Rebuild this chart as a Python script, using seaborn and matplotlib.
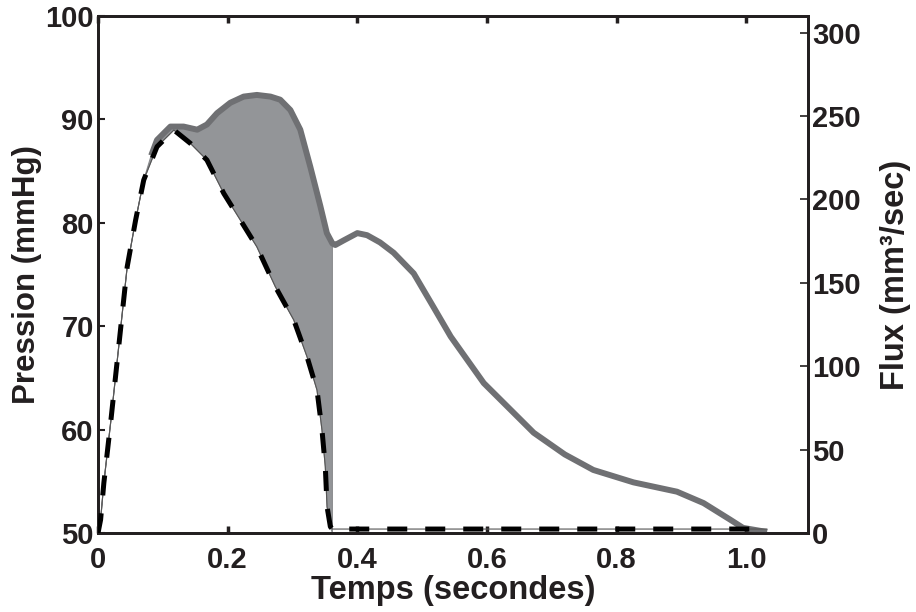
import numpy as np
import pandas as pd
import matplotlib
matplotlib.use("Agg")
import matplotlib.pyplot as plt
import seaborn as sns

# ---- data ----
flux_t = [0.000, 0.004, 0.009, 0.020, 0.032, 0.045, 0.058, 0.0705, 0.091, 0.117,
          0.1425, 0.168, 0.194, 0.2196, 0.245, 0.2735, 0.302, 0.3224, 0.3378, 0.3455,
          0.3506, 0.3533, 0.3584, 0.3615, 1.032]
flux_v = [0.0, 8.0, 30.0, 68.0, 112.0, 159.6, 187.6, 211.6, 231.6, 241.6,
          233.6, 223.6, 203.6, 187.6, 171.6, 147.7, 127.7, 105.7, 85.7, 61.7,
          39.7, 15.8, 3.8, 2.4, 2.4]

pres_t = [0.082, 0.091, 0.1117, 0.132, 0.153, 0.168, 0.1837, 0.204, 0.2247, 0.245,
          0.266, 0.281, 0.2967, 0.312, 0.3275, 0.343, 0.353, 0.3615, 0.366, 0.379,
          0.400, 0.415, 0.435, 0.456, 0.487, 0.517, 0.544, 0.595, 0.672, 0.720,
          0.764, 0.826, 0.893, 0.934, 0.975, 0.995, 1.032]
pres_v = [86.5, 88.0, 89.3, 89.3, 89.0, 89.5, 90.6, 91.6, 92.2, 92.36,
          92.2, 91.9, 90.9, 89.0, 85.4, 81.6, 79.0, 78.0, 77.85, 78.3,
          79.0, 78.8, 78.1, 77.1, 75.1, 71.9, 69.0, 64.5, 59.7, 57.6,
          56.1, 54.9, 54.0, 52.9, 51.3, 50.5, 50.1]

x_ticks = [0, 0.2, 0.4, 0.6, 0.8, 1.0]
x_labels = ["0", "0.2", "0.4", "0.6", "0.8", "1.0"]
p_ticks = [50, 60, 70, 80, 90, 100]
f_ticks = [0, 50, 100, 150, 200, 250, 300]

P_LIM = (50, 100)
F_LIM = (0, 310)
X_LIM = (0, 1.095)

# ---- style ----
sns.set_style("ticks")
plt.rcParams['font.family'] = ['Liberation Sans', 'DejaVu Sans']
plt.rcParams['font.weight'] = 'bold'
TXT = "#231f20"

fig = plt.figure(figsize=(9.16, 6.12), dpi=100)
ax = fig.add_axes([0.107, 0.129, 0.775, 0.845])
ax2 = ax.twinx()

ft = np.array(flux_t)
fv = np.array(flux_v)
pt = np.array(pres_t)
pv = np.array(pres_v)

def f_to_p(f):
    return P_LIM[0] + (f - F_LIM[0]) * (P_LIM[1] - P_LIM[0]) / (F_LIM[1] - F_LIM[0])

# shaded region between pressure and flux during ejection
t_end = 0.3615
fm = ft < t_end
pm = pt <= t_end
fl = ft < pt[0]
poly_x = np.concatenate([ft[fm], [t_end], pt[pm][::-1], ft[fl][::-1]])
poly_y = np.concatenate([f_to_p(fv[fm]), [P_LIM[0]], pv[pm][::-1], f_to_p(fv[fl][::-1])])
ax.fill(poly_x, poly_y, facecolor="#939598", edgecolor="#8a8b8e", lw=0.8, zorder=1)

# pressure
dfp = pd.DataFrame({"t": pt, "p": pv})
sns.lineplot(data=dfp, x="t", y="p", ax=ax, color="#6f7073", lw=4.3,
             sort=False, estimator=None, zorder=3, solid_capstyle="butt",
             solid_joinstyle="round")

# flux: thin solid + thick dashes
dff = pd.DataFrame({"t": ft, "f": fv})
sns.lineplot(data=dff, x="t", y="f", ax=ax2, color="#555555", lw=0.8,
             sort=False, estimator=None, zorder=2)
sns.lineplot(data=dff, x="t", y="f", ax=ax2, color="black", lw=3.6,
             sort=False, estimator=None, zorder=4)
ax2.lines[-1].set_dashes((4.0, 3.6))
ax2.lines[-1].set_dash_capstyle("butt")

ax.set_xlim(*X_LIM)
ax.set_ylim(*P_LIM)
ax2.set_ylim(*F_LIM)

ax.set_xticks(x_ticks)
ax.set_xticklabels(x_labels)
ax.set_yticks(p_ticks)
ax2.set_yticks(f_ticks)

for a in (ax, ax2):
    for s in a.spines.values():
        s.set_linewidth(2.0)
        s.set_color(TXT)
        s.set_visible(True)

ax.tick_params(axis="x", direction="in", length=5, width=2.5, top=True,
               labelsize=21, pad=9, colors=TXT)
ax.tick_params(axis="y", direction="in", length=5, width=1.5, labelsize=21,
               pad=3, colors=TXT)
ax2.tick_params(axis="y", direction="in", length=6, width=1.2, labelsize=21,
                pad=3, colors=TXT)

ax.set_xlabel("Temps (secondes)", fontsize=23.5, fontweight="bold", color=TXT, labelpad=1)
ax.set_ylabel("Pression (mmHg)", fontsize=22.5, fontweight="bold", color=TXT, labelpad=2)
ax2.set_ylabel("Flux (mm³/sec)", fontsize=23.5, fontweight="bold", color=TXT,
               rotation=90, labelpad=14)

fig.savefig("out.png", dpi=100)
